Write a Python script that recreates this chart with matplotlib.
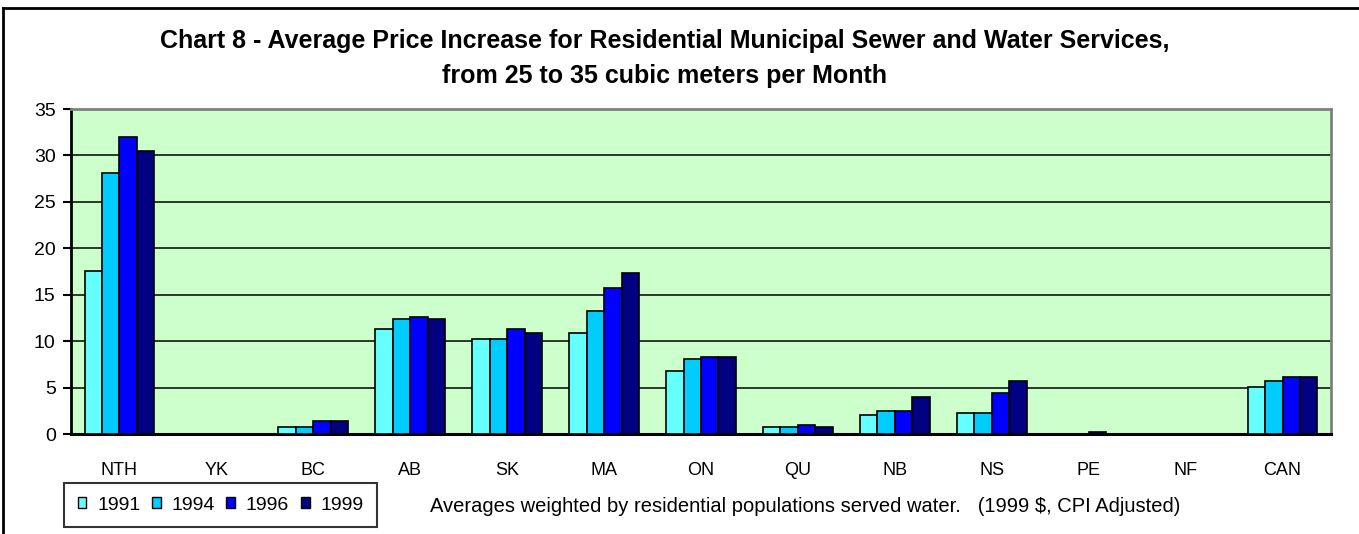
import matplotlib.pyplot as plt
import matplotlib.patches as mpatches
import matplotlib.lines as mlines
import numpy as np

plt.rcParams['font.family'] = ['Liberation Sans', 'DejaVu Sans']

### chart data
provinces = ["NTH", "YK", "BC", "AB", "SK", "MA", "ON", "QU", "NB", "NS", "PE", "NF", "CAN"]
years = ["1991", "1994", "1996", "1999"]
v1991 = [17.6, 0, 0.8, 11.3, 10.3, 10.9, 6.8, 0.8, 2.1, 2.3, 0, 0, 5.1]
v1994 = [28.1, 0, 0.8, 12.4, 10.3, 13.3, 8.1, 0.8, 2.5, 2.3, 0, 0, 5.7]
v1996 = [32.0, 0, 1.4, 12.6, 11.3, 15.7, 8.3, 1.0, 2.5, 4.4, 0.3, 0, 6.2]
v1999 = [30.5, 0, 1.4, 12.4, 10.9, 17.4, 8.3, 0.8, 4.0, 5.7, 0, 0, 6.2]
series = [v1991, v1994, v1996, v1999]
colors = ['#66FFFF', '#00CCFF', '#0000FF', '#000080']

fig = plt.figure(figsize=(13.59, 5.34), dpi=100)
ax = fig.add_axes([71 / 1359, 99.7 / 534, 1260 / 1359, 325.3 / 534])
ax.set_facecolor('#CCFFCC')

x = np.arange(len(provinces))
w = 0.18
for i, vals in enumerate(series):
    ax.bar(x + (i - 1.5) * w, vals, width=w, color=colors[i],
           edgecolor='black', linewidth=1.2, zorder=3)

ax.set_xlim(-0.5, len(provinces) - 0.5)
ax.set_ylim(0, 35)
ax.set_yticks(range(0, 36, 5))
ax.yaxis.grid(True, color='black', linewidth=1.1, zorder=1)
ax.set_axisbelow(True)
ax.set_xticks(x)
ax.set_xticklabels(provinces)
ax.tick_params(axis='x', length=0, pad=20, labelsize=13)
ax.tick_params(axis='y', length=6, width=1.5, direction='out', pad=5, labelsize=14)

for s in ['top', 'right']:
    ax.spines[s].set_color('#808080')
    ax.spines[s].set_linewidth(2)
ax.spines['left'].set_linewidth(2)
ax.spines['bottom'].set_linewidth(2.2)

# two-line title, each line centred
fig.text(665 / 1359, 1 - 41 / 534,
         "Chart 8 - Average Price Increase for Residential Municipal Sewer and Water Services,",
         ha='center', va='center', fontsize=18, fontweight='bold')
fig.text(665 / 1359, 1 - 76 / 534, "from 25 to 35 cubic meters per Month",
         ha='center', va='center', fontsize=18, fontweight='bold')

fig.text(430 / 1359, 1 - 506 / 534,
         "Averages weighted by residential populations served water.   (1999 $, CPI Adjusted)",
         ha='left', va='center', fontsize=14.5)

handles = [mpatches.Patch(facecolor=c, edgecolor='black', linewidth=1, label=y)
           for c, y in zip(colors, years)]
leg = fig.legend(handles=handles, loc='center left', bbox_to_anchor=(64 / 1359, 1 - 505 / 534),
                 ncol=4, frameon=True, fancybox=False, fontsize=14,
                 handlelength=0.45, handleheight=0.45, handletextpad=0.55, columnspacing=0.6,
                 borderpad=0.7, borderaxespad=0)
leg.get_frame().set_edgecolor('black')
leg.get_frame().set_linewidth(1.5)

# outer chart border
fig.add_artist(mlines.Line2D([3 / 1359, 1], [1 - 8 / 534, 1 - 8 / 534], color='black', linewidth=2))
fig.add_artist(mlines.Line2D([3 / 1359, 3 / 1359], [0, 1 - 8 / 534], color='black', linewidth=2))

plt.savefig('out.png', dpi=100)
